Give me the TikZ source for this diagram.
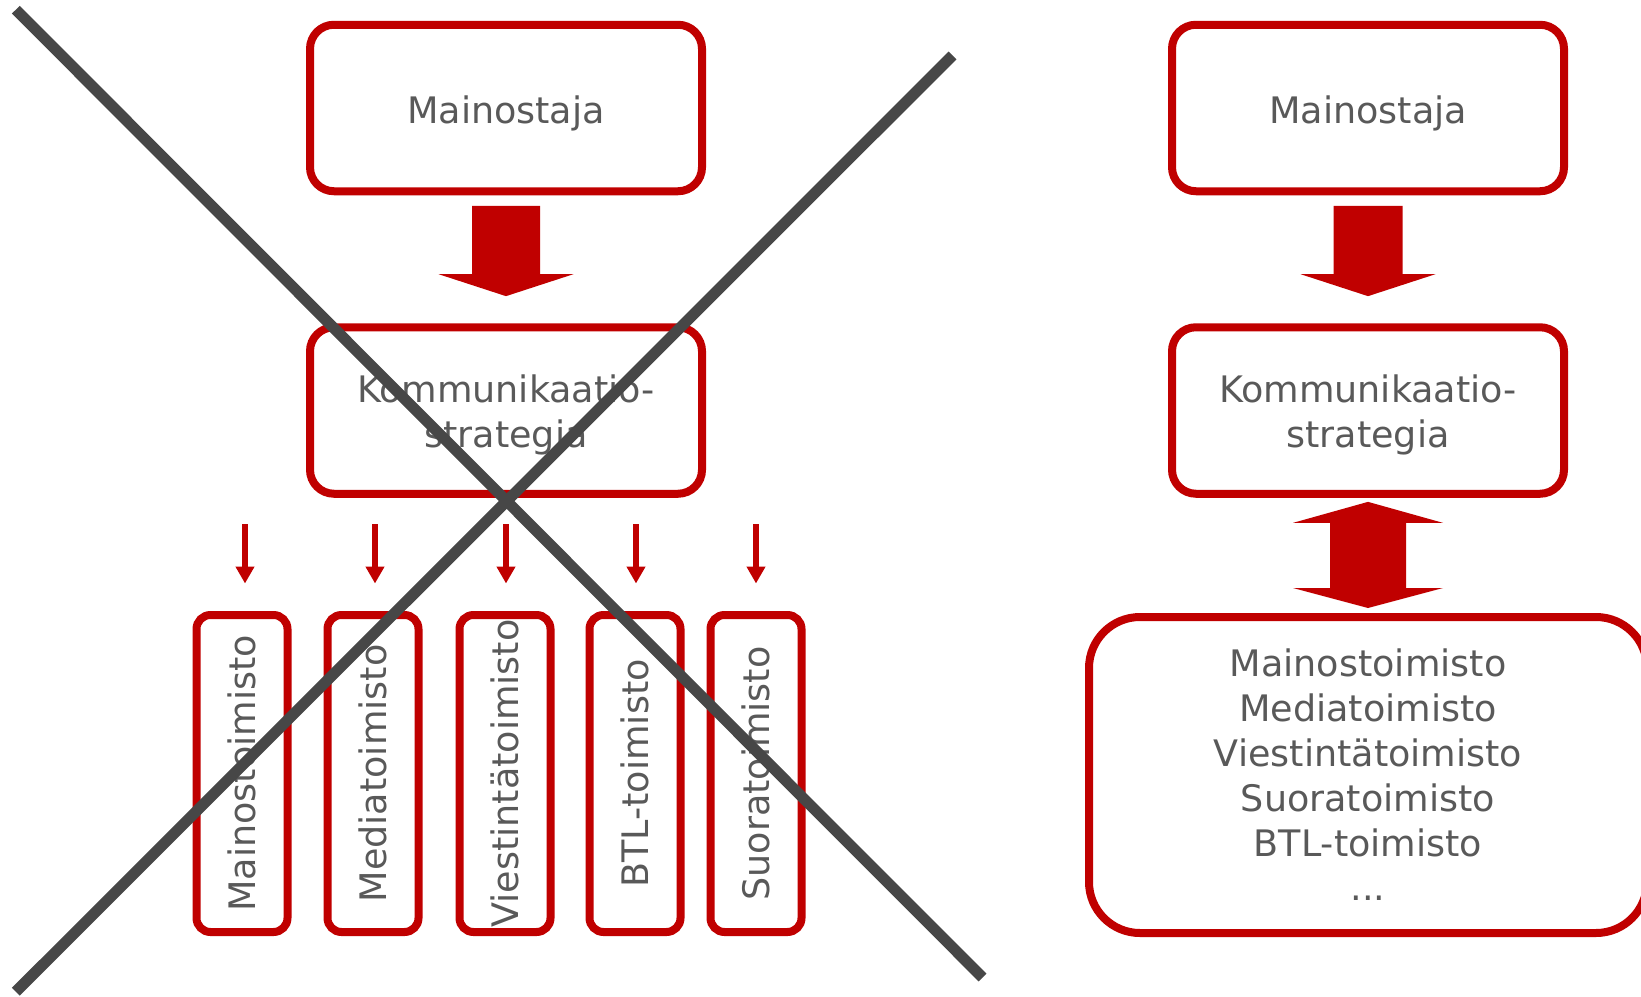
\documentclass[tikz,border=0pt]{standalone}
\usepackage{fontspec}
\setmainfont{DejaVu Sans}
\usetikzlibrary{calc,arrows.meta}
\definecolor{redc}{RGB}{192,0,0}
\definecolor{txtc}{RGB}{89,89,89}
\definecolor{crossc}{RGB}{71,71,71}
\begin{document}
\begin{tikzpicture}[x=1pt,y=-1pt,
  txt/.style={text=txtc, font=\fontsize{36.5}{44.2}\selectfont, align=center},
  bigbox/.style={txt, draw=redc, line width=8pt, rounded corners=24pt,
    minimum width=392pt, minimum height=166.5pt, inner sep=0pt, outer sep=0pt},
  listbox/.style={txt, font=\fontsize{36.5}{44.8}\selectfont, draw=redc, line width=8pt,
    rounded corners=51pt, minimum width=558pt, minimum height=316pt,
    inner sep=0pt, outer sep=0pt},
  smallbox/.style={txt, draw=redc, line width=8pt, rounded corners=14pt,
    minimum width=317pt, minimum height=91pt, inner sep=0pt, outer sep=0pt,
    rotate=90, text height=26pt, text depth=0pt},
  blockarrow/.style={fill=redc, draw=none},
  thinarrow/.style={draw=redc, line width=6pt, -{Triangle[width=18pt,length=17pt]}},
  cross/.style={draw=crossc, line width=11pt, line cap=butt}
]
\clip (0,0) rectangle (1641,996);

% ---------- left column ----------
\node[bigbox, text height=30pt, text depth=0pt] (mL) at (506,108) {Mainostaja};
\node[bigbox] (kL) at (506,410.5) {\rule{0pt}{36.7pt}Kommunikaatio-\\strategia};

\fill[blockarrow] ($(mL.south)+(-34,14.6)$) -- ($(mL.south)+(34,14.6)$)
  -- ($(kL.north)+(34,-53.1)$) -- ($(kL.north)+(67.5,-53.1)$)
  -- ($(kL.north)+(0,-31.1)$) -- ($(kL.north)+(-67.5,-53.1)$)
  -- ($(kL.north)+(-34,-53.1)$) -- cycle;

\node[smallbox] (s1) at (242,773.5) {Mainostoimisto};
\node[smallbox] (s2) at (373,773.5) {Mediatoimisto};
\node[smallbox] (s3) at (505,773.5) {Viestintätoimisto};
\node[smallbox] (s4) at (635,773.5) {BTL-toimisto};
\node[smallbox] (s5) at (756,773.5) {Suoratoimisto};

\foreach \s/\dx in {s1/3,s2/2,s3/1,s4/1,s5/0}{
  \draw[thinarrow] ($(\s.center)+(\dx,-249.5)$) -- ($(\s.center)+(\dx,-190)$);
}

% ---------- right column ----------
\node[bigbox, text height=30pt, text depth=0pt] (mR) at (1368,108) {Mainostaja};
\node[bigbox] (kR) at (1368,410.5) {\rule{0pt}{36.7pt}Kommunikaatio-\\strategia};
\node[listbox] (bR) at (1368,775) {Mainostoimisto\\Mediatoimisto\\Viestintätoimisto\\Suoratoimisto\\BTL-toimisto\\...};

\fill[blockarrow] ($(mR.south)+(-34.5,14.6)$) -- ($(mR.south)+(34.5,14.6)$)
  -- ($(kR.north)+(34.5,-53.1)$) -- ($(kR.north)+(67.5,-53.1)$)
  -- ($(kR.north)+(0,-31.1)$) -- ($(kR.north)+(-67.5,-53.1)$)
  -- ($(kR.north)+(-34.5,-53.1)$) -- cycle;

\fill[blockarrow] ($(kR.south)+(0,8.1)$) -- ($(kR.south)+(75,29.1)$)
  -- ($(kR.south)+(38,29.1)$) -- ($(bR.north)+(38,-29)$)
  -- ($(bR.north)+(75,-29)$) -- ($(bR.north)+(0,-9)$)
  -- ($(bR.north)+(-75,-29)$) -- ($(bR.north)+(-38,-29)$)
  -- ($(kR.south)+(-38,29.1)$) -- ($(kR.south)+(-75,29.1)$) -- cycle;

% ---------- crossing-out ----------
\coordinate (c1a) at (15.8,9.7);
\coordinate (c1b) at (982.5,977.5);
\coordinate (c2a) at (952.5,55.5);
\coordinate (c2b) at (15.8,991.7);
\draw[cross] (c1a) -- (c1b);
\draw[cross] (c2a) -- (c2b);
\end{tikzpicture}
\end{document}
